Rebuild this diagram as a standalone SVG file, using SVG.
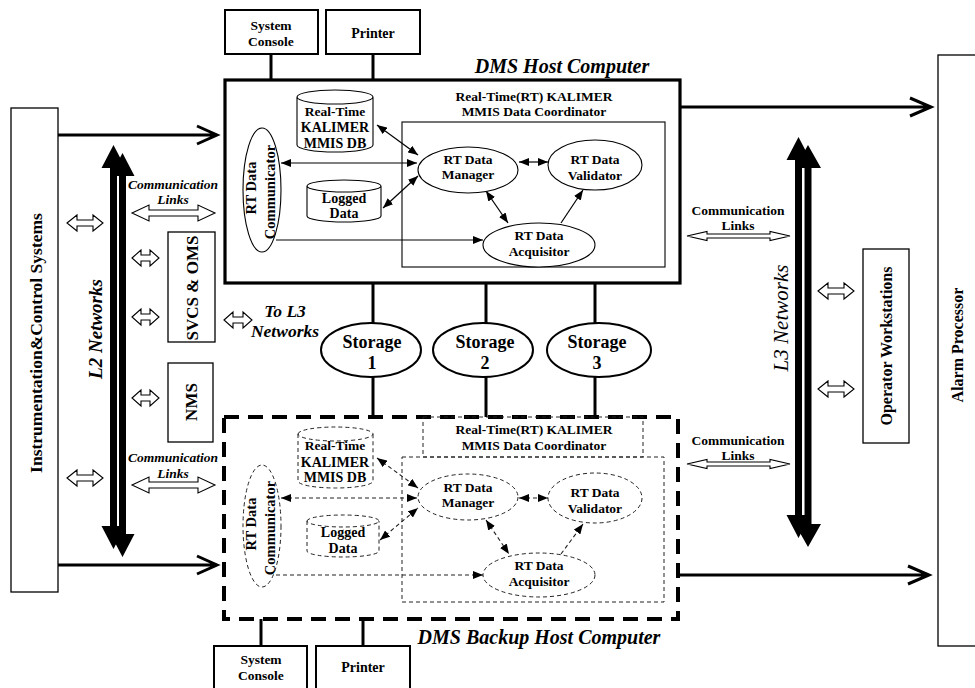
<svg xmlns="http://www.w3.org/2000/svg" width="975" height="688" viewBox="0 0 975 688">
<style>
text{font-family:"Liberation Serif","Times New Roman",serif;font-weight:bold;fill:#000;text-anchor:middle}
.it{font-style:italic}
.box{fill:#fff;stroke:#000;stroke-width:1.3}
.bx2{fill:#fff;stroke:#000;stroke-width:2}
.thin{fill:#fff;stroke:#000;stroke-width:1.1}
.dsh{fill:#fff;stroke:#222;stroke-width:1;stroke-dasharray:4 3}
.dshn{fill:none;stroke:#222;stroke-width:1;stroke-dasharray:4 3}
.ln{stroke:#000;stroke-width:3;fill:none}
.con{stroke:#000;stroke-width:1.2;fill:none}
.cond{stroke:#222;stroke-width:1.1;fill:none;stroke-dasharray:4 3}
.hol{fill:#fff;stroke:#000;stroke-width:1.1}
.blk{fill:#000;stroke:none}
.t13{font-size:13.5px}
.t14{font-size:14px}
.rt{font-size:13.5px}
.rv{font-size:14.5px}
</style>
<defs>
<marker id="ah" viewBox="0 0 10 8" refX="10" refY="4" markerWidth="10" markerHeight="8" markerUnits="userSpaceOnUse" orient="auto-start-reverse"><path d="M0,0 L10,4 L0,8 z" fill="#000"/></marker>
</defs>

<!-- Instrumentation & Control Systems -->
<g id="ics">
<rect class="box" x="11" y="108" width="47" height="484"/>
<text font-size="17.5" transform="translate(36,343) rotate(-90)" dominant-baseline="central">Instrumentation&amp;Control  Systems</text>
</g>

<!-- Alarm Processor -->
<g id="alarm">
<rect class="box" x="938" y="55" width="45" height="591"/>
<text font-size="16" transform="translate(957,345) rotate(-90)" dominant-baseline="central">Alarm Processor</text>
</g>

<!-- Operator Workstations -->
<g id="opws">
<rect class="box" x="863" y="249" width="46" height="194"/>
<text font-size="16" transform="translate(886,346) rotate(-90)" dominant-baseline="central">Operator Workstations</text>
</g>

<!-- SVCS & OMS -->
<g id="svcs">
<rect class="box" x="168" y="232" width="47" height="110"/>
<text font-size="17" transform="translate(192,288) rotate(-90)" dominant-baseline="central">SVCS &amp; OMS</text>
</g>

<!-- NMS -->
<g id="nms">
<rect class="box" x="168" y="363" width="45" height="79"/>
<text font-size="17" transform="translate(191,402) rotate(-90)" dominant-baseline="central">NMS</text>
</g>

<!-- Top console/printer -->
<g id="console-top">
<rect class="bx2" x="225" y="10" width="93" height="44"/>
<text class="t13" x="271" y="30">System</text>
<text class="t13" x="271" y="46">Console</text>
</g>
<g id="printer-top">
<rect class="bx2" x="326" y="10" width="94" height="44"/>
<text class="t14" x="373" y="38">Printer</text>
</g>

<!-- Bottom console/printer -->
<g id="console-bot">
<rect class="bx2" x="214" y="646" width="93" height="50"/>
<text class="t13" x="261" y="664">System</text>
<text class="t13" x="261" y="680">Console</text>
</g>
<g id="printer-bot">
<rect class="bx2" x="316" y="646" width="94" height="50"/>
<text class="t14" x="363" y="672">Printer</text>
</g>

<!-- DMS Host Computer -->
<g id="host">
<rect x="225" y="80" width="455" height="203" fill="#fff" stroke="#000" stroke-width="3.2"/>
<text class="it" font-size="20" x="562" y="73">DMS Host Computer</text>
<text class="t13" x="534" y="101">Real-Time(RT) KALIMER</text>
<text class="t13" x="534" y="116">MMIS Data Coordinator</text>
<rect class="thin" x="402" y="122" width="263" height="145"/>
</g>
<g id="host-db">
<path class="thin" d="M297,97 A38,7 0 0 1 373,97 A38,7 0 0 1 297,97 M297,97 V145 A38,7 0 0 0 373,145 V97"/>
<text class="t13" x="335" y="116">Real-Time</text>
<text class="t14" x="335" y="132">KALIMER</text>
<text class="t14" x="335" y="148">MMIS DB</text>
</g>
<g id="host-logged">
<path class="thin" d="M307,186 A37,6 0 0 1 381,186 A37,6 0 0 1 307,186 M307,186 V216 A37,6 0 0 0 381,216 V186"/>
<text class="t14" x="344" y="203">Logged</text>
<text class="t14" x="344" y="218">Data</text>
</g>
<g id="host-comm">
<ellipse class="thin" cx="262" cy="190" rx="19" ry="62"/>
<text class="rv" transform="translate(251,188) rotate(-90)" dominant-baseline="central">RT Data</text>
<text class="rv" transform="translate(270,192) rotate(-90)" dominant-baseline="central">Communicator</text>
</g>
<g id="host-mgr">
<ellipse class="thin" cx="468" cy="170" rx="50" ry="23"/>
<text class="rt" x="468" y="164">RT Data</text>
<text class="rt" x="468" y="179">Manager</text>
</g>
<g id="host-val">
<ellipse class="thin" cx="595" cy="165" rx="47" ry="25"/>
<text class="rt" x="595" y="164">RT Data</text>
<text class="rt" x="595" y="180">Validator</text>
</g>
<g id="host-acq">
<ellipse class="thin" cx="539" cy="245" rx="56" ry="22"/>
<text class="rt" x="539" y="240">RT Data</text>
<text class="rt" x="539" y="256">Acquisitor</text>
</g>

<!-- DMS Backup Host Computer -->
<g id="backup">
<rect x="224" y="417" width="454" height="202" fill="#fff" stroke="#000" stroke-width="4" stroke-dasharray="15 9"/>
<text class="it" font-size="20" x="539" y="644">DMS Backup Host Computer</text>
<rect class="dshn" x="423" y="417" width="220" height="40"/>
<text class="t13" x="534" y="434">Real-Time(RT) KALIMER</text>
<text class="t13" x="534" y="450">MMIS Data Coordinator</text>
<rect class="dshn" x="402" y="457" width="262" height="145"/>
</g>
<g id="bk-db">
<path class="dsh" d="M298,434 A37.5,7 0 0 1 373,434 A37.5,7 0 0 1 298,434 M298,434 V481 A37.5,7 0 0 0 373,481 V434"/>
<text class="t13" x="335" y="450">Real-Time</text>
<text class="t14" x="335" y="467">KALIMER</text>
<text class="t14" x="335" y="482">MMIS DB</text>
</g>
<g id="bk-logged">
<path class="dsh" d="M307,521 A36,6 0 0 1 379,521 A36,6 0 0 1 307,521 M307,521 V551 A36,6 0 0 0 379,551 V521"/>
<text class="t14" x="343" y="537">Logged</text>
<text class="t14" x="343" y="553">Data</text>
</g>
<g id="bk-comm">
<ellipse class="dsh" cx="262" cy="526" rx="19" ry="61"/>
<text class="rv" transform="translate(251,524) rotate(-90)" dominant-baseline="central">RT Data</text>
<text class="rv" transform="translate(270,528) rotate(-90)" dominant-baseline="central">Communicator</text>
</g>
<g id="bk-mgr">
<ellipse class="dsh" cx="468" cy="497" rx="50" ry="23"/>
<text class="rt" x="468" y="492">RT Data</text>
<text class="rt" x="468" y="507">Manager</text>
</g>
<g id="bk-val">
<ellipse class="dsh" cx="595" cy="498" rx="47" ry="25"/>
<text class="rt" x="595" y="497">RT Data</text>
<text class="rt" x="595" y="513">Validator</text>
</g>
<g id="bk-acq">
<ellipse class="dsh" cx="539" cy="575" rx="56" ry="22"/>
<text class="rt" x="539" y="570">RT Data</text>
<text class="rt" x="539" y="586">Acquisitor</text>
</g>

<!-- Storage -->
<g id="storage1">
<ellipse cx="371" cy="350" rx="50" ry="27" fill="#fff" stroke="#000" stroke-width="2"/>
<text font-size="18" x="372" y="348">Storage</text>
<text font-size="18" x="372" y="369">1</text>
</g>
<g id="storage2">
<ellipse cx="483" cy="350" rx="50" ry="27" fill="#fff" stroke="#000" stroke-width="2"/>
<text font-size="18" x="485" y="348">Storage</text>
<text font-size="18" x="485" y="369">2</text>
</g>
<g id="storage3">
<ellipse cx="599" cy="350" rx="52" ry="27" fill="#fff" stroke="#000" stroke-width="2"/>
<text font-size="18" x="597" y="348">Storage</text>
<text font-size="18" x="597" y="369">3</text>
</g>

<!-- Networks -->
<g id="l2net">
<polygon class="blk" points="122.5,153 134.5,176 126,176 126,534 134.5,534 122.5,557 110.5,534 119,534 119,176 110.5,176"/>
<polygon class="blk" points="113.5,145 125.5,168 117,168 117,526 125.5,526 113.5,549 101.5,526 110,526 110,168 101.5,168"/>
<line x1="118" y1="176" x2="118" y2="526" stroke="#fff" stroke-width="1.5"/>
<text class="it" font-size="19" transform="translate(95,329) rotate(-90)" dominant-baseline="central">L2  Networks</text>
</g>
<g id="l3net">
<polygon class="blk" points="808,145 821,168 811.5,168 811.5,524 821,524 808,547 795,524 804.5,524 804.5,168 795,168"/>
<polygon class="blk" points="798.5,137 810.5,160 802,160 802,515 810.5,515 798.5,538 786.5,515 795,515 795,160 786.5,160"/>
<line x1="803.3" y1="168" x2="803.3" y2="515" stroke="#fff" stroke-width="1.5"/>
<text class="it" font-size="21" style="font-weight:normal" transform="translate(781,318) rotate(-90)" dominant-baseline="central">L3  Networks</text>
</g>

<!-- Labels -->
<g id="labels">
<text class="it t13" x="173" y="189">Communication</text>
<text class="it t13" x="173" y="204">Links</text>
<text class="it t13" x="173" y="462">Communication</text>
<text class="it t13" x="173" y="478">Links</text>
<text class="t13" x="738" y="215">Communication</text>
<text class="t13" x="738" y="230">Links</text>
<text class="t13" x="738" y="445">Communication</text>
<text class="t13" x="738" y="460">Links</text>
<text class="it" font-size="17.5" x="285" y="317">To L3</text>
<text class="it" font-size="17.5" x="285" y="337">Networks</text>
</g>

<!-- Connectors -->
<g id="connectors">
<line class="ln" x1="271" y1="54" x2="271" y2="80"/>
<line class="ln" x1="373" y1="54" x2="373" y2="80"/>
<line class="ln" x1="261" y1="619" x2="261" y2="646"/>
<line class="ln" x1="363" y1="619" x2="363" y2="646"/>
<line class="ln" x1="373" y1="283" x2="373" y2="323"/>
<line class="ln" x1="373" y1="377" x2="373" y2="417"/>
<line class="ln" x1="486" y1="283" x2="486" y2="323"/>
<line class="ln" x1="486" y1="377" x2="486" y2="417"/>
<line class="ln" x1="595" y1="283" x2="595" y2="323"/>
<line class="ln" x1="595" y1="377" x2="595" y2="417"/>
<path class="ln" d="M58,135 H216 M197,126 L217,135 L197,144"/>
<path class="ln" d="M58,565 H216 M197,556 L217,565 L197,574"/>
<path class="ln" d="M681,107 H930 M910,98 L931,107 L910,116"/>
<path class="ln" d="M679,575 H928 M908,566 L929,575 L908,584"/>
<polygon class="hol" points="67,223 77,215 77,220 93,220 93,215 103,223 93,231 93,226 77,226 77,231"/>
<polygon class="hol" points="67,478 77,470 77,475 93,475 93,470 103,478 93,486 93,481 77,481 77,486"/>
<polygon class="hol" points="132,258 141,250 141,255 150,255 150,250 159,258 150,266 150,261 141,261 141,266"/>
<polygon class="hol" points="132,317 141,309 141,314 150,314 150,309 159,317 150,325 150,320 141,320 141,325"/>
<polygon class="hol" points="132,398 141,390 141,395 150,395 150,390 159,398 150,406 150,401 141,401 141,406"/>
<polygon class="hol" points="224,320 233,312 233,317 243,317 243,312 252,320 243,328 243,323 233,323 233,328"/>
<polygon class="hol" points="818,291 828,283 828,288 844,288 844,283 854,291 844,299 844,294 828,294 828,299"/>
<polygon class="hol" points="818,389 828,381 828,386 844,386 844,381 854,389 844,397 844,392 828,392 828,397"/>
<polygon class="hol" points="132,213 149,205 149,210 198,210 198,205 215,213 198,221 198,216 149,216 149,221"/>
<polygon class="hol" points="132,485 149,477 149,482 198,482 198,477 215,485 198,493 198,488 149,488 149,493"/>
<polygon class="hol" points="687,236 707,231.5 707,234 770,234 770,231.5 790,236 770,240.5 770,238 707,238 707,240.5"/>
<polygon class="hol" points="687,464 707,459.5 707,462 770,462 770,459.5 790,464 770,468.5 770,466 707,466 707,468.5"/>
<line class="con" x1="377" y1="125" x2="418" y2="155" marker-start="url(#ah)" marker-end="url(#ah)"/>
<line class="con" x1="281" y1="163" x2="417" y2="163" marker-start="url(#ah)" marker-end="url(#ah)"/>
<line class="con" x1="383" y1="208" x2="418" y2="176" marker-start="url(#ah)" marker-end="url(#ah)"/>
<line class="con" x1="486" y1="191" x2="508" y2="223" marker-start="url(#ah)" marker-end="url(#ah)"/>
<line class="con" x1="519" y1="162" x2="548" y2="162" marker-start="url(#ah)" marker-end="url(#ah)"/>
<line class="con" x1="561" y1="223" x2="583" y2="190" marker-end="url(#ah)"/>
<line class="con" x1="276" y1="240" x2="483" y2="240" marker-end="url(#ah)"/>
<line class="cond" x1="377" y1="458" x2="418" y2="488" marker-start="url(#ah)" marker-end="url(#ah)"/>
<line class="cond" x1="281" y1="498" x2="417" y2="498" marker-start="url(#ah)" marker-end="url(#ah)"/>
<line class="cond" x1="380" y1="540" x2="418" y2="508" marker-start="url(#ah)" marker-end="url(#ah)"/>
<line class="cond" x1="486" y1="520" x2="509" y2="554" marker-start="url(#ah)" marker-end="url(#ah)"/>
<line class="cond" x1="519" y1="498" x2="548" y2="498" marker-start="url(#ah)" marker-end="url(#ah)"/>
<line class="cond" x1="561" y1="554" x2="583" y2="524" marker-end="url(#ah)"/>
<line class="cond" x1="276" y1="575" x2="483" y2="575" marker-end="url(#ah)"/>
</g>
</svg>
